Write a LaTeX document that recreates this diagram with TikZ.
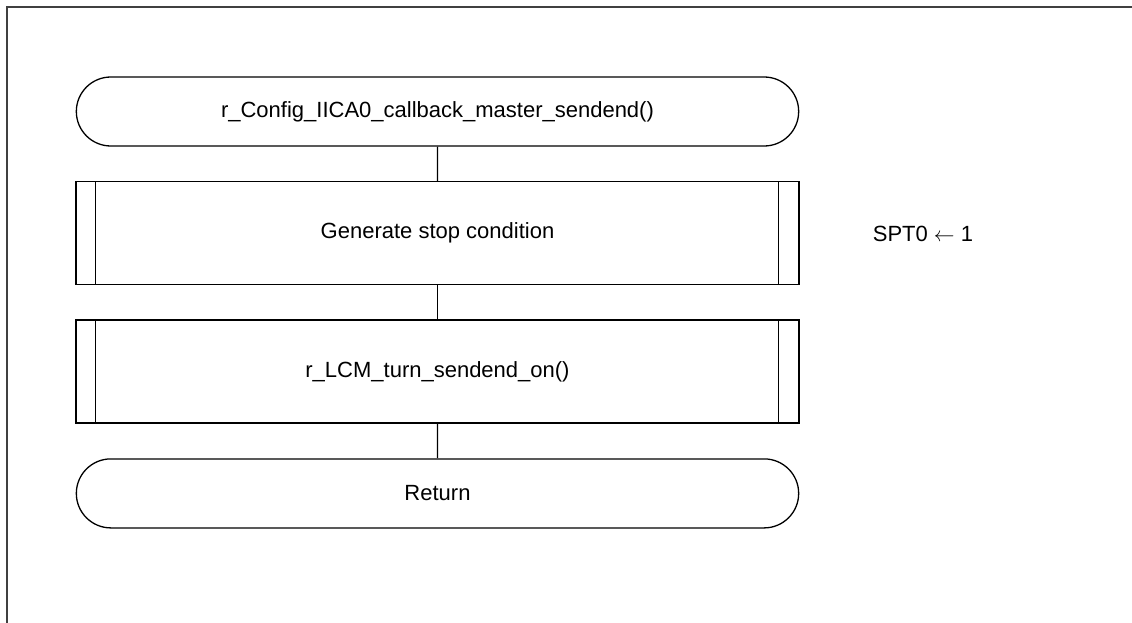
\documentclass[tikz,border=0pt]{standalone}
\usepackage{fontspec}
\setmainfont{Liberation Sans}
\usepackage{tikz}
\usetikzlibrary{positioning,shapes.misc}
\tikzset{%
  every flowbox/.style={
    draw,
    line width=1.3pt,
    font=\fontsize{22}{26}\selectfont
  },
  terminal/.style={
    every flowbox,
    rounded rectangle,
    minimum width=729pt,
    minimum height=69pt
  },
  process/.style={
    every flowbox,
    rectangle,
    minimum width=723pt,
    minimum height=103pt
  },
  flow/.style={line width=1.3pt},
}

\begin{document}
\begin{tikzpicture}[x=1pt, y=-1pt]
\useasboundingbox (0,0) rectangle (1132,623);
\draw[line width=1.5pt, black!75] (7,623) -- (7,7) -- (1132,7);
    \node[terminal] (start) at (437.5,111.5) {r\_Config\_IICA0\_callback\_master\_sendend()};
    \node[process, below=34.5pt of start] (stop) {Generate stop condition};
    \node[process, below=34pt of stop] (sendend) {r\_LCM\_turn\_sendend\_on()};
    \node[terminal, below=34.5pt of sendend] (ret) {Return};
    \foreach \p in {stop,sendend} {
        \draw[flow] ([xshift=20pt]\p.north west) -- ([xshift=20pt]\p.south west);
        \draw[flow] ([xshift=-21pt]\p.north east) -- ([xshift=-21pt]\p.south east);
    }
    \node[anchor=west, inner sep=0pt, font=\fontsize{22}{26}\selectfont, right=73pt of stop, yshift=-1pt] (spt) {SPT0 $\leftarrow$ 1};
    \draw[flow] (start) -- (stop);
    \draw[flow] (stop) -- (sendend);
    \draw[flow] (sendend) -- (ret);
\end{tikzpicture}
\end{document}
